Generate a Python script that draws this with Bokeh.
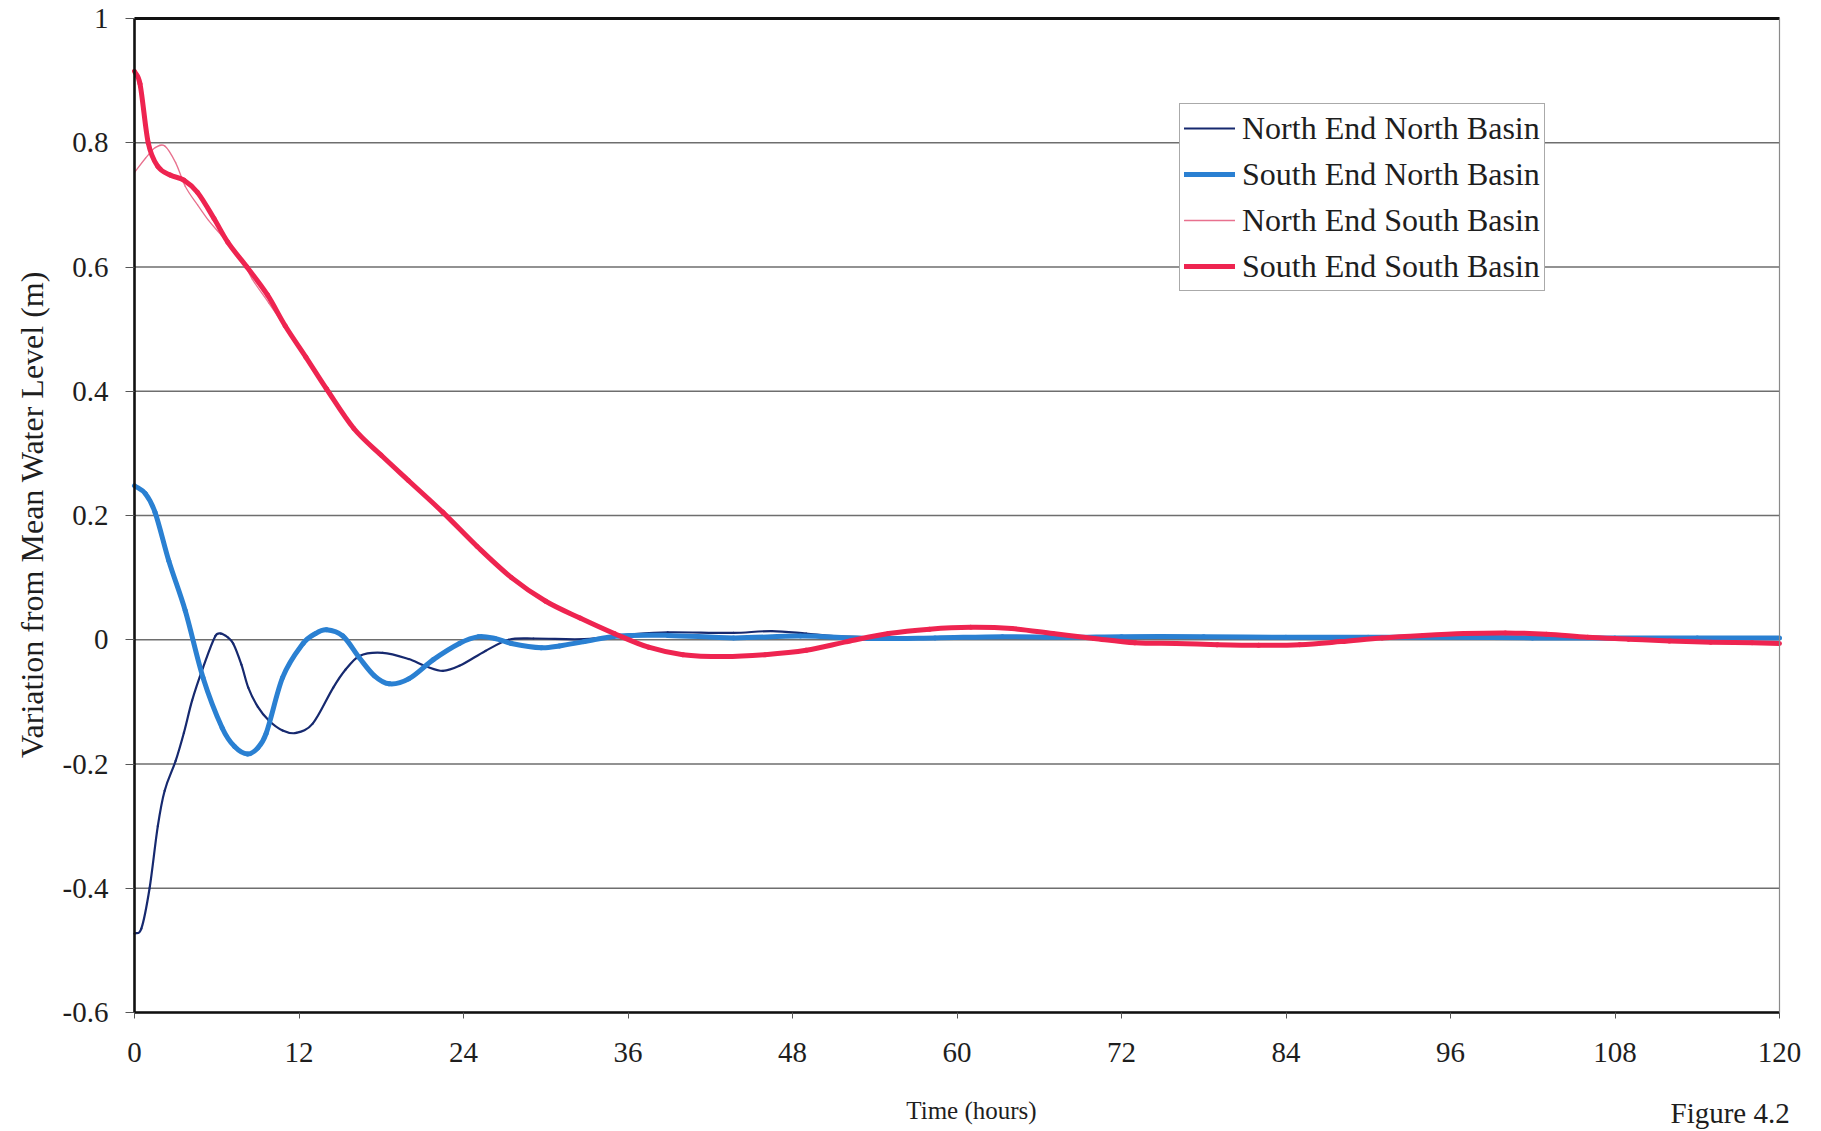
import math
from bokeh.plotting import figure
from bokeh.models import FixedTicker, Range1d, Legend, LegendItem, Label, LinearAxis
from bokeh.embed import file_html
from bokeh.resources import INLINE

# ---------------- data ----------------
x_ticks = [0, 12, 24, 36, 48, 60, 72, 84, 96, 108, 120]
y_ticks = [-0.6, -0.4, -0.2, 0, 0.2, 0.4, 0.6, 0.8, 1]
y_tick_labels = ["-0.6", "-0.4", "-0.2", "0", "0.2", "0.4", "0.6", "0.8", "1"]

series_names = ["North End North Basin", "South End North Basin",
                "North End South Basin", "South End South Basin"]

nenb_t = [0, 0.5, 1.1, 1.7, 2.2, 3.0, 3.6, 4.2, 5.0, 5.9, 6.3, 6.8, 7.2, 7.8, 8.3, 9.0,
          9.8, 10.8, 11.8, 13.0, 14.5, 15.4, 16.4, 18.1, 20.0, 21.3, 22.5, 23.7, 25.6,
          27.3, 29.1, 32.8, 36.5, 38.9, 43.7, 46.5, 49.0, 51.0, 55.0, 60.0, 66.0, 72.0,
          78.0, 84.0, 90.0, 96.0, 102.0, 108.0, 114.0, 120.0]
nenb_y = [-0.473, -0.465, -0.40, -0.30, -0.243, -0.195, -0.150, -0.098, -0.045, 0.006,
          0.010, 0.004, -0.006, -0.040, -0.077, -0.108, -0.130, -0.146, -0.150, -0.135,
          -0.077, -0.048, -0.026, -0.021, -0.031, -0.043, -0.050, -0.042, -0.018, 0.000,
          0.002, 0.001, 0.009, 0.012, 0.011, 0.014, 0.010, 0.006, 0.004, 0.004, 0.005,
          0.006, 0.006, 0.005, 0.005, 0.004, 0.004, 0.004, 0.004, 0.004]

senb_t = [0, 0.8, 1.5, 2.5, 3.7, 5.0, 6.4, 7.3, 8.25, 9.0, 9.6, 10.8, 12.3, 13.2, 14.0,
          15.2, 16.4, 17.5, 18.6, 20.0, 21.8, 23.7, 25.1, 26.3, 27.5, 29.7, 31.0, 32.8,
          35.3, 38.9, 43.7, 48.6, 53.5, 58.4, 63.3, 68.0, 72.0, 78.0, 84.0, 90.0, 96.0,
          102.0, 108.0, 114.0, 120.0]
senb_y = [0.248, 0.235, 0.205, 0.127, 0.047, -0.061, -0.142, -0.172, -0.184, -0.174,
          -0.151, -0.061, -0.006, 0.010, 0.016, 0.006, -0.029, -0.058, -0.071, -0.063,
          -0.032, -0.006, 0.005, 0.002, -0.006, -0.013, -0.010, -0.003, 0.006, 0.007,
          0.003, 0.006, 0.002, 0.003, 0.005, 0.004, 0.005, 0.005, 0.004, 0.004, 0.004,
          0.003, 0.003, 0.003, 0.003]

nesb_t = [0, 0.8, 1.5, 2.2, 3.0, 3.7, 4.6, 5.4, 6.3, 7.2, 8.0, 8.6, 9.8, 11.0, 12.5,
          14.0, 16.0, 18.0, 20.0, 22.5, 25.0, 27.5, 30.0, 32.5, 35.0, 37.5, 40.0, 43.0,
          46.0, 49.0, 52.0, 55.0, 58.0, 61.0, 64.0, 67.0, 70.0, 73.0, 76.0, 79.0, 82.0,
          85.0, 88.0, 91.0, 94.0, 97.0, 100.0, 103.0, 106.0, 109.0, 112.0, 115.0, 118.0,
          120.0]
nesb_y = [0.752, 0.775, 0.792, 0.795, 0.768, 0.730, 0.700, 0.675, 0.652, 0.628, 0.605,
          0.580, 0.542, 0.503, 0.455, 0.405, 0.341, 0.298, 0.257, 0.206, 0.151, 0.101,
          0.063, 0.036, 0.011, -0.011, -0.023, -0.026, -0.023, -0.016, -0.002, 0.011,
          0.018, 0.021, 0.019, 0.011, 0.003, -0.004, -0.005, -0.007, -0.008, -0.007,
          -0.002, 0.004, 0.008, 0.011, 0.012, 0.010, 0.005, 0.002, -0.001, -0.003,
          -0.004, -0.005]

sesb_t = [0, 0.4, 1.0, 1.7, 2.6, 3.6, 4.6, 5.8, 6.8, 8.2, 9.7, 11.0, 12.5, 14.0, 16.0,
          18.0, 20.0, 22.5, 25.0, 27.5, 30.0, 32.5, 35.0, 37.5, 40.0, 43.0, 46.0, 49.0,
          52.0, 55.0, 58.0, 61.0, 64.0, 67.0, 70.0, 73.0, 76.0, 79.0, 82.0, 85.0, 88.0,
          91.0, 94.0, 97.0, 100.0, 103.0, 106.0, 109.0, 112.0, 115.0, 118.0, 120.0]
sesb_y = [0.915, 0.895, 0.800, 0.762, 0.748, 0.740, 0.720, 0.678, 0.640, 0.600, 0.555,
          0.505, 0.455, 0.404, 0.340, 0.297, 0.256, 0.205, 0.150, 0.100, 0.062, 0.035,
          0.010, -0.012, -0.024, -0.027, -0.024, -0.017, -0.003, 0.010, 0.017, 0.020,
          0.018, 0.010, 0.002, -0.005, -0.006, -0.008, -0.009, -0.008, -0.003, 0.003,
          0.007, 0.010, 0.011, 0.009, 0.004, 0.001, -0.002, -0.004, -0.005, -0.006]


def smooth_segments(t, y):
    """Cubic Hermite (smoothed line) segments as Bezier control points."""
    n = len(t)
    m = []
    for i in range(n):
        if i == 0:
            m.append((y[1] - y[0]) / (t[1] - t[0]))
        elif i == n - 1:
            m.append((y[-1] - y[-2]) / (t[-1] - t[-2]))
        else:
            m.append((y[i + 1] - y[i - 1]) / (t[i + 1] - t[i - 1]))
    seg = dict(x0=[], y0=[], x1=[], y1=[], cx0=[], cy0=[], cx1=[], cy1=[])
    for i in range(n - 1):
        h = t[i + 1] - t[i]
        seg["x0"].append(t[i]); seg["y0"].append(y[i])
        seg["x1"].append(t[i + 1]); seg["y1"].append(y[i + 1])
        seg["cx0"].append(t[i] + h / 3); seg["cy0"].append(y[i] + m[i] * h / 3)
        seg["cx1"].append(t[i + 1] - h / 3); seg["cy1"].append(y[i + 1] - m[i + 1] * h / 3)
    return seg


# ---------------- layout (pixel placement of the plotting area) ----------------
FONT = "Liberation Serif"
TXT = "#1e1e1e"
W, H = 1821, 1131
LEFT_PX, RIGHT_PX, TOP_PX, BOTTOM_PX = 134, 1779, 18, 1012
X_MIN, X_MAX = x_ticks[0], x_ticks[-1]
Y_MIN, Y_MAX = y_ticks[0], y_ticks[-1]
sx = (RIGHT_PX - LEFT_PX) / (X_MAX - X_MIN)
sy = (BOTTOM_PX - TOP_PX) / (Y_MAX - Y_MIN)


def px_to_x(px):
    return X_MIN + (px - LEFT_PX) / sx


def py_to_y(py):
    return Y_MAX - (py - TOP_PX) / sy


# the frame covers the whole canvas; axes are pinned at the data edges
p = figure(width=W, height=H, output_backend="svg", toolbar_location=None,
           x_range=Range1d(px_to_x(0), px_to_x(W)),
           y_range=Range1d(py_to_y(H), py_to_y(0)),
           min_border=0)
p.background_fill_color = "white"
p.border_fill_color = "white"
p.outline_line_color = None
p.xgrid.visible = False
p.ygrid.visible = False

# horizontal gridlines between the data edges
p.segment(x0=[X_MIN] * len(y_ticks), x1=[X_MAX] * len(y_ticks), y0=y_ticks, y1=y_ticks,
          line_color="#6e6e6e", line_width=1.3)

xa, ya = p.xaxis[0], p.yaxis[0]
xa.ticker = FixedTicker(ticks=x_ticks)
xa.fixed_location = Y_MIN
xa.bounds = (X_MIN, X_MAX)
ya.ticker = FixedTicker(ticks=y_ticks)
ya.fixed_location = X_MIN
ya.bounds = (Y_MIN, Y_MAX)
ya.major_label_overrides = {v: s for v, s in zip(y_ticks, y_tick_labels)}

for ax in (xa, ya):
    ax.axis_line_color = "#111111"
    ax.axis_line_width = 2.6
    ax.major_tick_line_color = "#555555"
    ax.major_tick_line_width = 1
    ax.major_tick_in = 0
    ax.minor_tick_line_color = None
    ax.major_label_text_font = FONT
    ax.major_label_text_font_size = "29px"
    ax.major_label_text_color = TXT

xa.major_tick_out = 6
xa.major_label_standoff = 24
ya.major_tick_out = 9
ya.major_label_standoff = 17

# frame borders: thick black top, thin grey right
top_border = LinearAxis(ticker=FixedTicker(ticks=[]), fixed_location=Y_MAX,
                        bounds=(X_MIN, X_MAX), axis_line_color="#111111",
                        axis_line_width=2.8, major_tick_line_color=None,
                        minor_tick_line_color=None)
p.add_layout(top_border, "above")
right_border = LinearAxis(ticker=FixedTicker(ticks=[]), fixed_location=X_MAX,
                          bounds=(Y_MIN, Y_MAX), axis_line_color="#8a8a8a",
                          axis_line_width=1.2, major_tick_line_color=None,
                          minor_tick_line_color=None)
p.add_layout(right_border, "right")

# axis titles
p.add_layout(Label(x=px_to_x(31), y=py_to_y(514), text="Variation from Mean Water Level (m)",
                   angle=math.pi / 2, text_align="center", text_baseline="middle",
                   text_font=FONT, text_font_size="32px", text_color=TXT))
p.add_layout(Label(x=px_to_x(971), y=py_to_y(1110), text="Time (hours)",
                   text_align="center", text_baseline="middle",
                   text_font=FONT, text_font_size="25px", text_color=TXT))

styles = [dict(line_color="#16296f", line_width=2.2),
          dict(line_color="#2a80d2", line_width=5),
          dict(line_color="#e8718e", line_width=1.3),
          dict(line_color="#ee2450", line_width=5)]
data = [(nenb_t, nenb_y), (senb_t, senb_y), (nesb_t, nesb_y), (sesb_t, sesb_y)]

renderers = []
for (t, y), st in zip(data, styles):
    r = p.bezier(source=smooth_segments(t, y), x0="x0", y0="y0", x1="x1", y1="y1",
                 cx0="cx0", cy0="cy0", cx1="cx1", cy1="cy1", line_cap="round", **st)
    renderers.append(r)

legend = Legend(items=[LegendItem(label=n, renderers=[r], index=0) for n, r in
                       zip(series_names, renderers)],
                location=(1179, H - 291))
legend.label_text_font = FONT
legend.label_text_font_size = "32px"
legend.label_text_color = TXT
legend.glyph_width = 51
legend.glyph_height = 40
legend.label_height = 40
legend.spacing = 6
legend.padding = 4
legend.margin = 0
legend.label_standoff = 7
legend.border_line_color = "#555555"
legend.border_line_width = 1
legend.background_fill_color = "white"
legend.background_fill_alpha = 1
p.add_layout(legend)

# figure caption at bottom-right
p.add_layout(Label(x=px_to_x(1670), y=py_to_y(1096), text="Figure 4.2",
                   text_baseline="top", text_font=FONT, text_font_size="29px",
                   text_color=TXT))

open("out.html", "w").write(file_html(p, INLINE))
